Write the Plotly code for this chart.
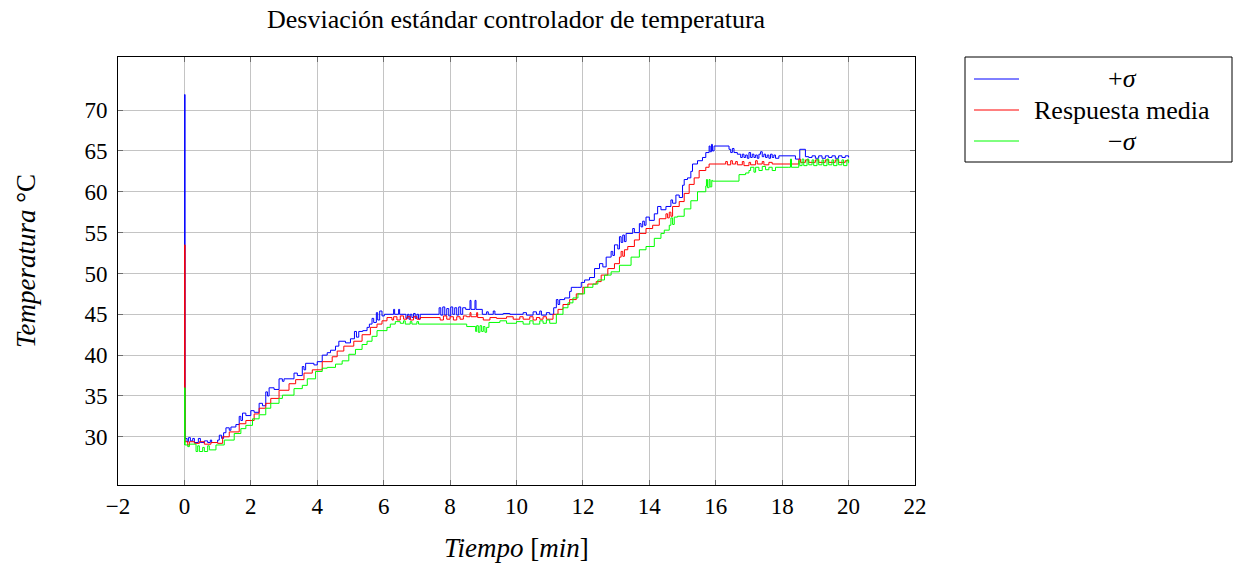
import plotly.graph_objects as go

# ---- data: temperature response (minutes, degrees C) ----
t_sup = [0, 0.005, 0.02, 0.08, 0.12, 0.18, 0.25, 0.3, 0.42, 0.48, 0.6, 0.7, 0.78, 0.82, 1.0,
         1.05, 1.12, 1.18, 1.25, 1.35, 1.4, 1.55, 1.65, 1.7, 1.75, 1.85, 2.0, 2.1, 2.25, 2.35,
         2.45, 2.5, 2.55, 2.7, 2.85, 2.95, 3.0, 3.3, 3.4, 3.55, 3.6, 3.65, 3.9, 4.0, 4.15, 4.3,
         4.4, 4.55, 4.65, 4.85, 5.0, 5.12, 5.18, 5.25, 5.37, 5.5, 5.57, 5.65, 5.7, 5.78, 5.82,
         5.88, 5.95, 6.02, 6.3, 6.33, 6.45, 6.48, 6.67, 6.72, 6.76, 6.8, 6.85, 6.9, 6.95, 7.0,
         7.05, 7.1, 7.67, 7.72, 7.78, 7.84, 7.9, 7.96, 8.02, 8.08, 8.14, 8.2, 8.26, 8.32, 8.38,
         8.47, 8.6, 8.63, 8.75, 8.78, 8.97, 9.1, 9.15, 9.3, 9.35, 9.6, 9.8, 10.2, 10.3, 10.5,
         10.6, 10.7, 10.75, 10.9, 11.0, 11.12, 11.2, 11.25, 11.3, 11.45, 11.6, 11.65, 11.85,
         11.95, 12.05, 12.2, 12.35, 12.5, 12.6, 12.7, 12.85, 12.9, 12.95, 13.05, 13.1, 13.15,
         13.2, 13.25, 13.3, 13.5, 13.55, 13.7, 13.75, 13.8, 13.85, 13.9, 14.0, 14.15, 14.25,
         14.35, 14.5, 14.65, 14.7, 14.8, 14.9, 15.0, 15.05, 15.15, 15.25, 15.3, 15.45, 15.6,
         15.7, 15.8, 15.83, 15.87, 15.9, 15.95, 16.4, 16.45, 16.5, 16.55, 16.65, 16.75, 16.8,
         16.85, 16.9, 16.95, 17.0, 17.05, 17.1, 17.15, 17.2, 17.25, 17.3, 17.35, 17.4, 17.45,
         17.5, 17.55, 17.6, 17.65, 17.7, 17.75, 17.8, 17.9, 18.4, 18.5, 18.53, 18.7, 18.8,
         18.9, 19.0, 19.1, 19.2, 19.3, 19.4, 19.5, 19.6, 19.7, 19.8, 19.9, 20.0]
y_sup = [29.5, 71.9, 29.8, 29.4, 29.9, 29.5, 29.8, 29.3, 29.8, 29.3, 29.5, 29.3, 29.6, 29.3, 29.6,
         30.2, 29.8, 30.5, 31.1, 30.8, 31.2, 31.5, 32.5, 32.0, 32.9, 32.6, 33.2, 33.0, 34.1, 33.8,
         35.5, 35.0, 36.0, 35.8, 37.1, 36.8, 37.1, 37.8, 37.5, 38.6, 38.2, 39.0, 38.8, 39.2, 40.0, 40.3,
         40.6, 41.1, 41.7, 41.5, 42.0, 42.9, 42.2, 42.9, 43.0, 43.4, 43.8, 44.5, 44.0, 45.2, 44.3,
         45.4, 44.8, 45.0, 45.6, 45.0, 45.6, 45.0, 44.5, 45.0, 44.4, 45.0, 44.6, 45.1, 44.5, 45.0,
         44.4, 45.0, 45.8, 44.9, 45.9, 44.9, 45.7, 44.8, 45.9, 45.0, 45.8, 44.9, 45.9, 45.0, 45.8,
         45.6, 46.7, 45.6, 46.7, 45.6, 45.0, 45.3, 45.0, 45.4, 45.0, 45.1, 45.0, 45.2, 44.9, 45.3,
         45.0, 45.4, 44.9, 45.2, 45.0, 45.8, 46.8, 46.2, 46.8, 47.0, 47.8, 48.3, 48.3,
         48.9, 49.2, 49.5, 50.6, 51.2, 50.8, 52.0, 52.7, 52.2, 53.5, 53.0, 54.5, 53.8,
         54.7, 53.9, 54.9, 55.5, 55.0, 56.1, 55.7, 56.4, 55.9, 56.9, 56.5, 57.3, 58.2,
         57.8, 58.2, 59.0, 58.6, 59.6, 59.3, 60.8, 61.5, 61.7, 62.5, 63.4, 63.8, 64.2,
         64.8, 65.6, 64.9, 65.8, 65.0, 65.6, 65.2, 64.8, 65.3, 64.8, 64.6, 64.2, 64.6,
         64.2, 64.5, 64.1, 64.8, 64.2, 64.6, 64.2, 64.5, 64.1, 64.6, 64.9, 64.3, 64.6,
         64.2, 64.5, 64.1, 64.6, 64.2, 64.5, 64.1, 64.4, 64.0, 64.0, 65.2, 64.3, 64.2, 64.4,
         64.1, 64.4, 64.1, 64.4, 64.2, 64.4, 64.1, 64.4, 64.2, 64.4, 64.2, 64.4, 64.2]

t_media = [0, 0.005, 0.02, 0.1, 0.15, 0.3, 0.45, 0.6, 0.8, 1.0, 1.15, 1.35, 1.65, 1.85, 2.1,
           2.25, 2.45, 2.6, 2.85, 3.15, 3.35, 3.6, 3.85, 4.15, 4.45, 4.6, 4.8, 5.1, 5.35, 5.6,
           5.8, 5.95, 6.1, 6.25, 6.3, 6.4, 6.5, 6.6, 6.7, 6.8, 6.9, 7.0, 7.1, 7.7, 7.8, 7.9,
           8.0, 8.1, 8.2, 8.3, 8.4, 8.5, 8.6, 8.63, 8.8, 8.83, 9.0, 9.2, 9.4, 9.7, 9.9, 10.1,
           10.2, 10.4, 10.5, 10.6, 10.7, 10.8, 10.9, 11.1, 11.25, 11.4, 11.6, 11.8, 12.0, 12.15,
           12.4, 12.55, 12.75, 12.95, 13.1, 13.15, 13.2, 13.25, 13.35, 13.55, 13.7, 13.9, 14.1,
           14.3, 14.5, 14.55, 14.6, 14.65, 14.7, 14.9, 15.05, 15.2, 15.35, 15.5, 15.7, 15.8,
           16.3, 16.35, 16.45, 16.5, 16.6, 16.65, 16.8, 16.85, 17.0, 17.05, 17.2, 17.25, 17.4,
           17.45, 17.6, 17.7, 18.5, 18.55, 18.7, 18.8, 19.0, 19.1, 19.3, 19.4, 19.6, 19.7,
           19.9, 20.0]
y_media = [29.3, 53.5, 29.4, 29.0, 29.4, 29.2, 29.4, 29.1, 29.3, 29.2, 30.0, 30.6, 31.6, 32.0, 32.8,
           33.5, 34.1, 34.7, 35.7, 36.5, 37.0, 37.8, 38.2, 39.2, 39.8, 40.5, 41.1, 41.7, 42.5, 43.4,
           43.8, 44.2, 44.6, 44.3, 44.7, 44.3, 44.8, 44.4, 44.7, 44.3, 44.7, 44.4, 44.6, 44.3, 44.8, 44.4,
           44.7, 44.3, 44.7, 44.4, 44.8, 44.7, 45.2, 44.7, 45.2, 44.6, 44.3, 44.6, 44.5, 44.7, 44.4, 44.7,
           44.4, 44.7, 44.3, 44.6, 44.4, 44.7, 44.4, 45.0, 45.6, 46.2, 46.8, 47.5, 48.3, 48.7,
           49.0, 49.8, 50.6, 51.2, 52.0, 52.7, 52.1, 52.9, 53.3, 54.1, 54.9, 55.5, 55.9,
           56.7, 57.3, 56.8, 57.5, 57.0, 58.2, 58.8, 59.8, 60.9, 61.7, 62.6, 63.0, 63.4,
           63.7, 63.3, 63.8, 63.4, 63.7, 63.3, 63.7, 63.2, 63.6, 63.3, 63.8, 63.4, 63.7,
           63.3, 63.6, 63.4, 64.0, 63.6, 63.9, 63.6, 63.9, 63.6, 63.9, 63.6, 63.9, 63.6,
           63.8, 63.7]

t_inf = [0, 0.005, 0.02, 0.1, 0.15, 0.35, 0.4, 0.45, 0.55, 0.6, 0.7, 0.75, 0.95, 1.2, 1.5, 1.7,
         1.85, 2.05, 2.25, 2.45, 2.6, 2.85, 2.95, 3.3, 3.55, 3.7, 3.95, 4.15, 4.3, 4.55, 4.75,
         4.95, 5.15, 5.35, 5.5, 5.65, 5.8, 6.1, 6.2, 6.35, 6.5, 6.6, 6.65, 6.8, 6.85, 7.0, 7.05,
         7.7, 8.5, 8.77, 8.8, 8.85, 8.9, 8.95, 9.0, 9.05, 9.1, 9.17, 9.5, 9.7, 10.0, 10.2, 10.4,
         10.5, 10.7, 10.8, 10.9, 11.0, 11.2, 11.4, 11.55, 11.7, 11.85, 12.05, 12.3, 12.45, 12.65,
         12.85, 13.1, 13.45, 13.7, 13.9, 14.15, 14.35, 14.45, 14.6, 14.65, 14.7, 14.75, 14.85,
         15.05, 15.25, 15.45, 15.7, 15.72, 15.75, 15.8, 15.83, 15.88, 15.9, 16.7, 16.9, 17.0,
         17.05, 17.15, 17.2, 17.3, 17.4, 17.5, 17.6, 17.7, 17.8, 18.2, 18.25, 18.28, 18.5,
         18.53, 18.6, 18.65, 18.75, 18.8, 18.9, 18.95, 19.05, 19.1, 19.2, 19.25, 19.35, 19.4,
         19.5, 19.55, 19.65, 19.7, 19.8, 19.85, 19.95, 20.0]
y_inf = [29.0, 36.0, 29.0, 28.8, 29.1, 28.2, 28.9, 28.2, 28.7, 28.2, 28.9, 28.4, 29.0, 29.6, 30.4, 31.0,
         31.4, 32.2, 32.7, 33.5, 34.1, 34.7, 35.1, 35.9, 36.3, 37.1, 38.0, 38.4, 38.5, 38.9, 39.3,
         40.1, 40.7, 41.3, 41.7, 42.3, 43.0, 43.4, 43.8, 44.1, 43.9, 44.2, 43.8, 44.1, 43.8, 44.1, 43.8,
         43.8, 43.5, 42.9, 43.6, 42.8, 43.6, 42.9, 43.5, 42.8, 43.4, 44.0, 44.2, 43.9, 44.1, 43.8, 44.2,
         43.8, 44.2, 43.9, 44.3, 43.9, 45.0, 45.8, 46.4, 47.0, 47.5, 48.3, 48.7, 49.2, 49.8,
         50.2, 51.0, 52.0, 52.9, 53.3, 54.3, 54.9, 55.3, 55.9, 56.8, 56.0, 56.9, 57.0,
         57.9, 58.9, 60.0, 60.7, 61.5, 60.5, 61.5, 60.6, 61.4, 61.3, 62.1, 62.3, 62.6,
         63.0, 62.4, 63.0, 62.6, 63.1, 62.7, 63.0, 62.6, 63.0, 63.0, 64.0, 63.0, 63.8,
         63.2, 64.0, 63.2, 64.0, 63.3, 63.9, 63.2, 64.0, 63.3, 63.9, 63.2, 64.0, 63.3,
         63.9, 63.2, 64.0, 63.3, 63.9, 63.2, 63.9, 63.5]

x_ticks = [-2, 0, 2, 4, 6, 8, 10, 12, 14, 16, 18, 20, 22]
y_ticks = [30, 35, 40, 45, 50, 55, 60, 65, 70]

series = [
    ("+<i>σ</i>", t_sup, y_sup, "#0000ff"),
    ("Respuesta media", t_media, y_media, "#ff0000"),
    ("−<i>σ</i>", t_inf, y_inf, "#00ff00"),
]

W, H = 1233, 564
L, R, T, B = 118, 915, 57, 485
FONT = "Liberation Serif"
TEXT_SIZE = 26


def px(x):
    return (x - L) / (R - L)


def py(y):
    return (B - y) / (B - T)


fig = go.Figure()
for name, t, y, c in series:
    fig.add_trace(go.Scatter(x=t, y=y, mode="lines", name=name, line_shape="hv",
                             line=dict(color=c, width=1), showlegend=False))

axis_common = dict(showgrid=True, gridcolor="#c4c4c4", gridwidth=1, zeroline=False,
                   showline=True, linecolor="black", linewidth=1, mirror="ticks",
                   ticks="inside", ticklen=5, tickcolor="#6e6e6e",
                   tickfont=dict(family=FONT, size=23, color="black"))

fig.update_xaxes(range=[-2, 22], tickvals=x_ticks, **axis_common)
fig.update_yaxes(range=[24.1, 76.5], tickvals=y_ticks, ticklabelstandoff=5, **axis_common)

# legend box drawn by hand so the labels can be centred
shapes = [dict(type="rect", xref="paper", yref="paper", x0=px(965), x1=px(1232),
               y0=py(162), y1=py(57), line=dict(color="black", width=1), fillcolor="white")]
annotations = []
legend_rows = [79, 110, 141]
for (name, _, _, c), yy in zip(series, legend_rows):
    shapes.append(dict(type="line", xref="paper", yref="paper", x0=px(974), x1=px(1019),
                       y0=py(yy), y1=py(yy), line=dict(color=c, width=1)))
    annotations.append(dict(text=name, xref="paper", yref="paper", x=px(1122), y=py(yy),
                            xanchor="center", yanchor="middle", showarrow=False,
                            font=dict(family=FONT, size=TEXT_SIZE, color="black")))

annotations.append(dict(text="Desviación estándar controlador de temperatura",
                        xref="paper", yref="paper", x=0.5, y=py(19), xanchor="center",
                        yanchor="middle", showarrow=False,
                        font=dict(family=FONT, size=TEXT_SIZE, color="black")))
annotations.append(dict(text="<i>Tiempo</i> [<i>min</i>]", xref="paper", yref="paper",
                        x=0.5, y=py(548), xanchor="center", yanchor="middle", showarrow=False,
                        font=dict(family=FONT, size=TEXT_SIZE + 1, color="black")))
annotations.append(dict(text="<i>Temperatura</i> °C", xref="paper", yref="paper",
                        x=px(26), y=py(261), xanchor="center", yanchor="middle",
                        textangle=-90, showarrow=False,
                        font=dict(family=FONT, size=TEXT_SIZE + 1, color="black")))

fig.update_layout(width=W, height=H, margin=dict(l=L, r=W - R, t=T, b=H - B),
                  plot_bgcolor="white", paper_bgcolor="white",
                  shapes=shapes, annotations=annotations)

fig.write_html("out.html")
